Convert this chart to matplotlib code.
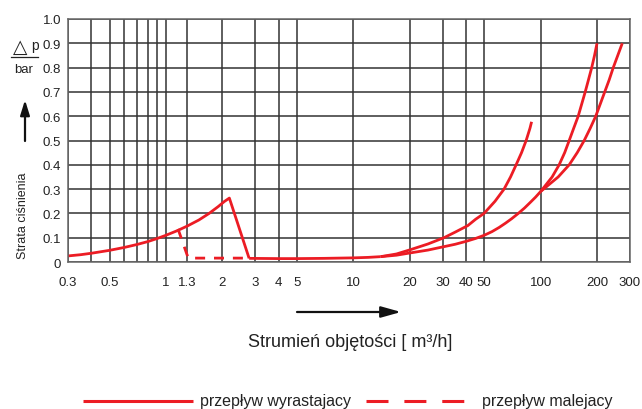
import matplotlib
matplotlib.use("Agg")
import matplotlib.pyplot as plt
from matplotlib.lines import Line2D

# ── Data ─────────────────────────────────────────────────────────────────────
# rising flow, low range: curve up to the opening peak, then drop
low_x = [0.3, 0.35, 0.4, 0.5, 0.6, 0.7, 0.8, 0.9, 1.0, 1.15, 1.3, 1.5, 1.7,
         1.9, 2.05, 2.18, 2.78]
low_y = [0.025, 0.03, 0.036, 0.048, 0.06, 0.072, 0.084, 0.097, 0.11, 0.129,
         0.148, 0.173, 0.2, 0.228, 0.249, 0.263, 0.015]

# flat section after the valve opens
flat_x = [2.78, 4, 5, 7, 10, 12, 14]
flat_y = [0.015, 0.014, 0.014, 0.015, 0.017, 0.019, 0.022]

# upper branch, ends near 89 m3/h
a_x = [14, 17, 20.05, 25, 30.5, 35, 40.9, 45, 49.9, 57.1, 63.8, 69.1, 74.0,
       79.1, 83.7, 87.7, 89.5]
a_y = [0.022, 0.033, 0.05, 0.074, 0.1, 0.123, 0.15, 0.176, 0.2, 0.25, 0.3,
       0.35, 0.4, 0.45, 0.5, 0.55, 0.577]

# shared lower branch up to the crossing at 100 m3/h
s_x = [14, 17, 20, 25, 30, 35, 40, 45, 50, 55, 60, 65, 70, 76, 82, 88, 94, 100]
s_y = [0.022, 0.028, 0.037, 0.049, 0.062, 0.073, 0.085, 0.097, 0.11, 0.125,
       0.142, 0.16, 0.178, 0.2, 0.222, 0.245, 0.267, 0.29]

# steeper branch ending at 200 m3/h
b_x = [100, 115.2, 125.6, 134.4, 142.1, 150.1, 158.7, 165.7, 173.0, 180.1,
       187.4, 194, 200]
b_y = [0.29, 0.35, 0.4, 0.45, 0.5, 0.55, 0.6, 0.65, 0.7, 0.75, 0.8, 0.85, 0.9]

# flatter branch ending near 270 m3/h
c_x = [100, 124.1, 142.1, 156.8, 170.9, 183.9, 196.9, 208.1, 219.9, 232.4,
       244.2, 258.1, 272.8]
c_y = [0.29, 0.35, 0.4, 0.45, 0.5, 0.55, 0.6, 0.65, 0.7, 0.75, 0.8, 0.85, 0.9]

# falling flow (dashed)
dash_x = [1.16, 1.315, 2.78]
dash_y = [0.136, 0.016, 0.016]

xtick_vals = [0.3, 0.5, 1, 1.3, 2, 3, 4, 5, 10, 20, 30, 40, 50, 100, 200, 300]
xtick_labels = ["0.3", "0.5", "1", "1.3", "2", "3", "4", "5", "10", "20",
                "30", "40", "50", "100", "200", "300"]
xminor_vals = [0.4, 0.6, 0.7, 0.8, 0.9]
ytick_vals = [0, 0.1, 0.2, 0.3, 0.4, 0.5, 0.6, 0.7, 0.8, 0.9, 1.0]
ytick_labels = ["0", "0.1", "0.2", "0.3", "0.4", "0.5", "0.6", "0.7", "0.8",
                "0.9", "1.0"]

# ── Style ────────────────────────────────────────────────────────────────────
RED = "#ec1c24"
GRID = "#333333"
TXT = "#222222"
plt.rcParams["font.family"] = ["Liberation Sans", "DejaVu Sans"]

W, H = 642, 410
fig = plt.figure(figsize=(W / 100, H / 100), dpi=100, facecolor="white")
ax = fig.add_axes([68 / W, 1 - 263 / H, (630 - 68) / W, (263 - 20) / H])

ax.set_xscale("log")
ax.set_xlim(0.3, 300)
ax.set_ylim(0, 1.0)

ax.set_xticks(xtick_vals)
ax.set_xticklabels(xtick_labels)
ax.set_xticks(xminor_vals, minor=True)
ax.set_xticklabels([""] * len(xminor_vals), minor=True)
ax.set_yticks(ytick_vals)
ax.set_yticklabels(ytick_labels)
ax.tick_params(axis="both", which="both", length=0, labelsize=9.5, colors=TXT)
ax.tick_params(axis="x", pad=10)
ax.tick_params(axis="y", pad=5)
ax.grid(True, which="both", color=GRID, lw=1.1)
ax.set_axisbelow(True)
for sp in ax.spines.values():
    sp.set_color("#666666")
    sp.set_linewidth(1.1)

# ── Curves ───────────────────────────────────────────────────────────────────
kw = dict(color=RED, lw=2.0, solid_capstyle="butt", solid_joinstyle="round")
ax.plot(low_x, low_y, **kw)
ax.plot(flat_x, flat_y, **kw)
ax.plot(a_x, a_y, **kw)
ax.plot(s_x, s_y, **kw)
ax.plot(b_x, b_y, **kw)
ax.plot(c_x, c_y, **kw)
ax.plot(dash_x, dash_y, color=RED, lw=2.0, dashes=(3.6, 3.2), dash_capstyle="butt")

# ── Axis annotations ─────────────────────────────────────────────────────────
def fy(py):
    return 1 - py / H

fig.text(20 / W, fy(47), "△", fontsize=13.5, ha="center", va="center", color=TXT,
         family=["DejaVu Sans"])
fig.text(35 / W, fy(46), "p", fontsize=10, ha="center", va="center", color=TXT)
fig.add_artist(Line2D([11 / W, 38 / W], [fy(58), fy(58)], color=TXT, lw=0.9))
fig.text(24 / W, fy(70), "bar", fontsize=9.5, ha="center", va="center", color=TXT)
fig.text(23 / W, fy(216), "Strata ciśnienia", fontsize=9, rotation=90,
         ha="center", va="center", color=TXT)

ax.annotate("", xy=(25 / W, fy(101)), xytext=(25 / W, fy(142)),
            xycoords="figure fraction", textcoords="figure fraction",
            arrowprops=dict(arrowstyle="-|>,head_length=0.9,head_width=0.28",
                            mutation_scale=10, color="#111111", lw=1.6,
                            shrinkA=0, shrinkB=0))
ax.annotate("", xy=(401 / W, fy(313)), xytext=(297 / W, fy(313)),
            xycoords="figure fraction", textcoords="figure fraction",
            arrowprops=dict(arrowstyle="-|>,head_length=1.0,head_width=0.28",
                            mutation_scale=12, color="#111111", lw=1.6,
                            shrinkA=0, shrinkB=0))

fig.text(350 / W, fy(343), "Strumień objętości [ m³/h]", fontsize=13,
         ha="center", va="center", color=TXT)

# ── Legend (drawn by hand to match the reference layout) ─────────────────────
fig.add_artist(Line2D([83 / W, 193 / W], [fy(402), fy(402)], color=RED, lw=2.2,
                      solid_capstyle="butt"))
fig.text(200 / W, fy(402), "przepływ wyrastajacy", fontsize=11.5,
         ha="left", va="center", color=TXT)
fig.add_artist(Line2D([366 / W, 464 / W], [fy(402), fy(402)], color=RED, lw=2.2,
                      dashes=(7.2, 5.2), dash_capstyle="butt"))
fig.text(482 / W, fy(402), "przepływ malejacy", fontsize=11.5,
         ha="left", va="center", color=TXT)

fig.savefig("out.png", dpi=100, facecolor="white")
